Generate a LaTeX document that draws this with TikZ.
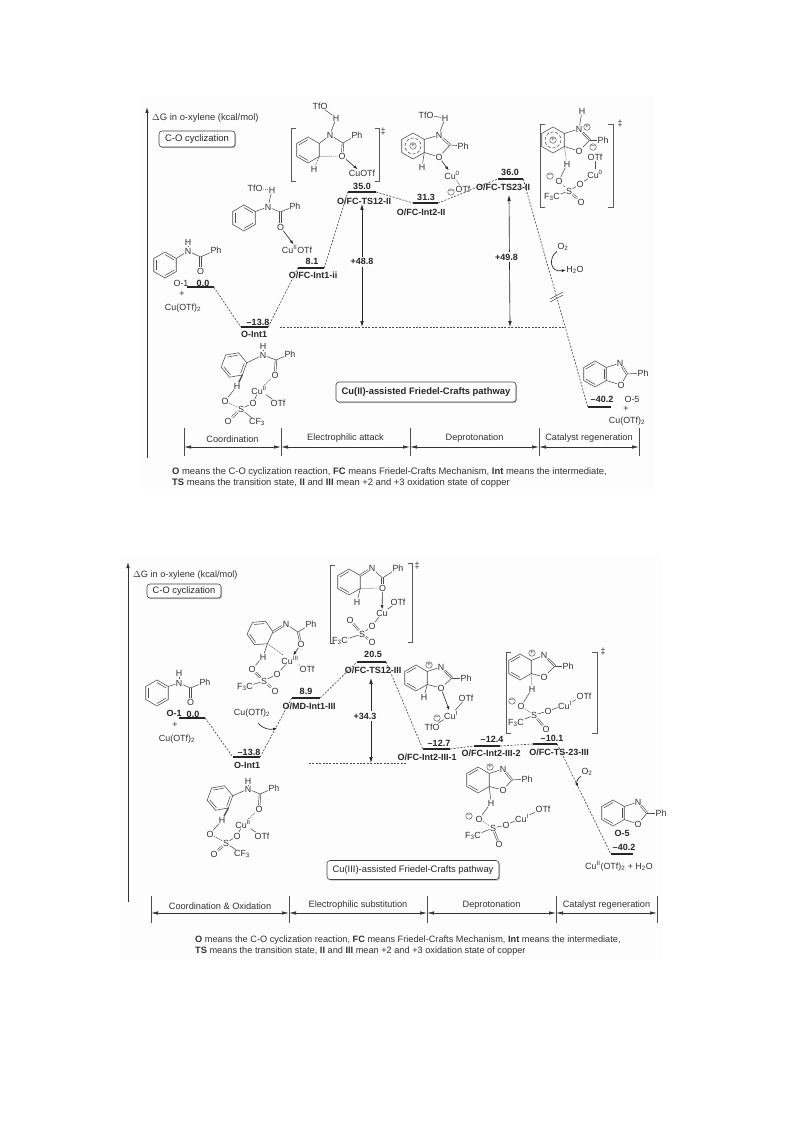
\documentclass[tikz,border=0pt]{standalone}
\usepackage{fontspec}
\setmainfont{Liberation Sans}
\usetikzlibrary{positioning}
\usetikzlibrary{arrows.meta}
\usetikzlibrary{calc}
\usetikzlibrary{shadows}

% molecule helpers
\newcommand{\atoms}[1]{\foreach \n/\x/\y/\t in {#1}{\node[atom] (\n) at (\x,\y) {\t};}}
\newcommand{\carbons}[1]{\foreach \n/\x/\y in {#1}{\coordinate (\n) at (\x,\y);}}
\newcommand{\signs}[1]{\foreach \n/\x/\y/\t in {#1}{\node[sign] (\n) at (\x,\y) {\t};}}
\newcommand{\bonds}[1]{\foreach \a/\b in {#1}{\draw[bond] (\a) -- (\b);}}
\newcommand{\dbonds}[1]{\foreach \a/\b in {#1}{\draw[dbond] (\a) -- (\b);}}
\newcommand{\dotbonds}[1]{\foreach \a/\b in {#1}{\draw[dotbond] (\a) -- (\b);}}
\newcommand{\cubonds}[1]{\foreach \a/\b in {#1}{\draw[cobond] (\a) -- (\b);}}
\newcommand{\ringat}[4]{%
  \coordinate (#10) at (#2,#3);
  \foreach \k in {1,...,6}{\coordinate (#1\k) at ({#2+13*cos(#4+60*\k)},{#3+13*sin(#4+60*\k)});}
  \draw[bond] (#11) -- (#12) -- (#13) -- (#14) -- (#15) -- (#16) -- cycle;}
\newcommand{\ringdbl}[2]{\foreach \p/\q in {#2}{\draw[bond] ($(#1\p)!.2!(#10)$) -- ($(#1\q)!.2!(#10)$);}}

\begin{document}
\begin{tikzpicture}[
  x=1pt, y=-1pt,
  atom/.style={inner sep=.4pt, text=black!80, font=\fontsize{8.9}{9}\selectfont},
  sign/.style={circle, draw=black!75, line width=.4pt, inner sep=0pt, minimum size=6.5pt, text=black!80, font=\fontsize{6.5}{6}\selectfont},
  bond/.style={line width=.55pt, draw=black!70},
  dbond/.style={line width=.6pt, draw=black!70, double=white, double distance=1pt},
  dotbond/.style={line width=.55pt, draw=black!70, dash pattern=on 1pt off 1pt},
  cobond/.style={line width=.6pt, draw=black!85, -{Latex[length=4pt,width=3pt]}},
  heavy/.style={line width=1.3pt, draw=black!70},
  brack/.style={line width=.75pt, draw=black!65},
  level/.style={fill=black!85, inner sep=0pt, minimum height=2.2pt},
  val/.style={inner sep=0pt, text=black!85, font=\bfseries\fontsize{9}{9}\selectfont},
  lab/.style={inner sep=0pt, text=black!85, font=\bfseries\fontsize{9}{9}\selectfont},
  plain/.style={inner sep=0pt, text=black!80, font=\fontsize{9.2}{9}\selectfont},
  conn/.style={line width=.65pt, draw=black!70, dash pattern=on 2pt off 1.4pt},
  gap/.style={line width=.65pt, draw=black!85, {Latex[length=6pt,width=3.6pt]}-{Latex[length=6pt,width=3.6pt]}},
  axis/.style={line width=.8pt, draw=black!80, -{Latex[length=6pt,width=3.6pt]}},
  span/.style={line width=.65pt, draw=black!80, {Latex[length=7pt,width=3.4pt]}-{Latex[length=7pt,width=3.4pt]}},
  tick/.style={line width=.65pt, draw=black!70},
  curl/.style={line width=.65pt, draw=black!85, -{Latex[length=4pt,width=3pt]}},
  tagbox/.style={draw=black!75, fill=white, rounded corners=3pt, line width=.6pt, inner sep=0pt, text=black!85, drop shadow={shadow xshift=1pt, shadow yshift=-1.2pt, fill=black!50}},
  note/.style={anchor=north west, inner sep=0pt, align=left, text=black!80}
]
\useasboundingbox (0,0) rectangle (793,1123);
\fill[black!.8] (140,95) rectangle (655,490);
\fill[black!.8] (120,555) rectangle (662,960);

% ---------- upper diagram ----------
\coordinate (axa) at (147,458);
\coordinate (axb) at (147,107);
\draw[axis] (axa) -- (axb);
\node[plain, anchor=west, font=\fontsize{9.4}{9}\selectfont] (ttla) at (152,118) {$\Delta$G in o-xylene (kcal/mol)};
\node[tagbox, minimum width=76pt, minimum height=16pt, font=\fontsize{9.5}{9}\selectfont] (boxa) at (197,139) {C-O cyclization};
\node[tagbox, minimum width=180pt, minimum height=20pt, font=\bfseries\fontsize{9.4}{9}\selectfont] (patha) at (426,392) {Cu(II)-assisted Friedel-Crafts pathway};

% Levels
\node[level, minimum width=27pt] (la1) at (200,287) {};
\node[level, minimum width=27pt] (la2) at (254.5,327) {};
\node[level, minimum width=26pt] (la3) at (311,268) {};
\node[level, minimum width=28pt] (la4) at (362,192) {};
\node[level, minimum width=25pt] (la5) at (425.5,203) {};
\node[level, minimum width=25pt] (la6) at (510.5,179) {};
\node[level, minimum width=23pt] (la7) at (599.5,407) {};

\node[val] (va1) at (203,283) {0.0};
\node[val] (va2) at (258,322) {--13.8};
\node[val] (va3) at (312,261) {8.1};
\node[val] (va4) at (362,186) {35.0};
\node[val] (va5) at (426,197) {31.3};
\node[val] (va6) at (510,172) {36.0};
\node[val] (va7) at (602,399) {--40.2};

\node[lab] (ta2) at (254,334) {O-Int1};
\node[lab] (ta3) at (313,275) {O/FC-Int1-ii};
\node[lab] (ta4) at (364,201) {O/FC-TS12-II};
\node[lab] (ta5) at (421,212) {O/FC-Int2-II};
\node[lab] (ta6) at (503,187) {O/FC-TS23-II};

% Pathway
\draw[conn] (la1.east) -- (la2.west);
\draw[conn] (la2.east) -- (la3.west);
\draw[conn] (la3.east) -- (la4.west);
\draw[conn] (la4.east) -- (la5.west);
\draw[conn] (la5.east) -- (la6.west);
\draw[conn] (la6.east) -- (la7.west);
\coordinate (hza) at (280,327);
\coordinate (hzb) at (565,327);
\draw[conn] (hza) -- (hzb);
\coordinate (gaa) at (362,204);
\coordinate (gab) at (362,327);
\coordinate (gac) at (509,195);
\coordinate (gad) at (510,327);
\draw[gap] (gaa) -- node[pos=.47, val, fill=white, inner sep=2pt] (g1) {+48.8} (gab);
\draw[gap] (gac) -- node[pos=.47, val, fill=white, inner sep=2pt, xshift=-3pt] (g2) {+49.8} (gad);

% Break and oxygen
\coordinate (bra) at (550,302);
\coordinate (brb) at (563,295);
\coordinate (brc) at (550,299);
\coordinate (brd) at (563,292);
\draw[bond] (bra) -- (brb);
\draw[bond] (brc) -- (brd);
\atoms{oxa/563/247/{O\textsubscript{2}}, oxb/575/270/{H\textsubscript{2}O}}
\draw[curl] (oxa.south west) .. controls (548,258) and (550,273) .. (oxb.west);

% Scale
\foreach \n/\x in {1/184,2/281,3/410,4/539,5/639}{
  \coordinate (sat\n) at (\x,428);
  \coordinate (sab\n) at (\x,456);
  \coordinate (sam\n) at (\x,447);
  \draw[tick] (sat\n) -- (sab\n);
}
\foreach \i/\j/\t in {1/2/Coordination,2/3/Electrophilic attack,3/4/Deprotonation,4/5/Catalyst regeneration}{
  \draw[span] (sam\i) -- node[above=4pt, plain] (sal\i) {\t} (sam\j);
}
\node[note, font=\fontsize{9.4}{11}\selectfont] (nota) at (172,467) {\textbf{O} means the C-O cyclization reaction, \textbf{FC} means Friedel-Crafts Mechanism, \textbf{Int} means the intermediate,\\
\textbf{TS} means the transition state, \textbf{II} and \textbf{III} mean +2 and +3 oxidation state of copper};

% Molecules
\ringat{oar}{165}{265}{30}
\ringdbl{oar}{2/3,4/5,6/1}
\atoms{oaH/188/242/H, oaN/188/251/N, oaPh/216/250/Ph, oaO/200.5/271/O, oaT/181/283/O-1, oaP/182/294/+, oaC/183/308/{Cu(OTf)\textsubscript{2}}}
\carbons{oaK/200.5/257}
\bonds{oar5/oaN, oaN/oaH, oaN/oaK, oaK/oaPh}
\dbonds{oaK/oaO}

\ringat{obr}{244}{218}{30}
\ringdbl{obr}{2/3,4/5,6/1}
\atoms{obT/255/188/TfO, obH/272/190/H, obN/268/207/N, obPh/295/206/Ph, obO/280.5/227/O, obC/297/249/{Cu\textsuperscript{II}OTf}}
\carbons{obK/280.5/212}
\bonds{obr5/obN, obN/obH, obN/obK, obK/obPh}
\dotbonds{obT/obH}
\dbonds{obK/obO}
\cubonds{obO/obC}

\ringat{ocr}{308}{150}{30}
\ringdbl{ocr}{1/2,3/4}
\atoms{ocT/320/106/TfO, ocH/336/118/H, ocN/330/135/N, ocPh/357/135/Ph, ocO/342/156/O, ocC/362/173/CuOTf, ocJ/314/169/H, ocD/383/132/‡}
\carbons{ocK/343/143}
\bonds{ocr5/ocN, ocN/ocK, ocK/ocPh, ocN/ocH, ocH/ocT}
\dbonds{ocK/ocO}
\dotbonds{ocr6/ocO, ocr6/ocJ}
\cubonds{ocO/ocC}
\draw[brack] (296,128) -- (291,128) -- (291,181) -- (296,181);
\draw[brack] (375,128) -- (379,128) -- (379,181) -- (375,181);

\ringat{odr}{234}{365}{-10}
\ringdbl{odr}{2/3,4/5,6/1}
\atoms{odH/263/346/H, odN/263/355/N, odPh/290/354/Ph, odO/275/375/O, odC/259/390/{Cu\textsuperscript{II}}, odA/253/403/O, odT/278/403/OTf, odJ/237/386/H, odB/225/401/O, odS/241/409/S, odD/228/421/O, odF/257/422/{CF\textsubscript{3}}}
\carbons{odK/276/360}
\bonds{odr6/odN, odN/odH, odN/odK, odK/odPh, odC/odA, odC/odT, odA/odS, odJ/odB, odS/odF}
\dbonds{odK/odO, odS/odD}
\dotbonds{odO/odC, odB/odS}
\draw[heavy] (odr1) -- (odJ);

\ringat{oer}{413}{146}{30}
\draw[bond, densely dashed] (oer0) circle (8);
\signs{oeP/413/146/+, oeM/451/192/--}
\atoms{oeT/426/115/TfO, oeH/445/118/H, oeN/439/135/N, oePh/463/146/Ph, oeO/439/157/O, oeC/452/175/{Cu\textsuperscript{0}}, oeF/463/189/OTf, oeJ/422/167/H}
\carbons{oeK/450/145}
\bonds{oer5/oeN, oer6/oeO, oeO/oeK, oeK/oePh, oeT/oeH, oeN/oeH, oer6/oeJ}
\dbonds{oeN/oeK}
\dotbonds{oeC/oeF}
\cubonds{oeO/oeC}

\ringat{ofr}{553}{140}{30}
\draw[bond, densely dashed] (ofr0) circle (8);
\signs{ofP/553/140/+, ofQ/587/127/+, ofM/593/147/--, ofL/550/176/--}
\atoms{ofH/582/111/H, ofN/579/129/N, ofPh/603/140/Ph, ofO/579/151/O, ofJ/567/164/H, ofT/595/157/OTf, ofC/595/174/{Cu\textsuperscript{0}}, ofA/580/184/O, ofS/569/191/S, ofB/559/181/O, ofF/552/197/{F\textsubscript{3}C}, ofD/581/202/O, ofE/620/124/‡}
\carbons{ofK/590/140}
\bonds{ofr5/ofN, ofN/ofH, ofr6/ofO, ofO/ofK, ofK/ofPh, ofT/ofC, ofC/ofA, ofA/ofS, ofJ/ofB, ofS/ofF}
\dbonds{ofN/ofK, ofS/ofD}
\dotbonds{ofr6/ofJ, ofB/ofS}
\draw[brack] (545,124) -- (540,124) -- (540,207) -- (545,207);
\draw[brack] (608,124) -- (613,124) -- (613,207) -- (608,207);

\ringat{ogr}{595}{374}{30}
\ringdbl{ogr}{1/2,3/4,5/6}
\atoms{ogN/620/363/N, ogPh/643/373/Ph, ogO/621/385/O, ogT/632/399/O-5, ogP/626/409/+, ogC/627/421/{Cu(OTf)\textsubscript{2}}}
\carbons{ogK/627/374}
\bonds{ogr5/ogN, ogr6/ogO, ogO/ogK, ogK/ogPh}
\dbonds{ogN/ogK}

% ---------- lower diagram ----------
\coordinate (bxa) at (128,902);
\coordinate (bxb) at (128,562);
\draw[axis] (bxa) -- (bxb);
\node[plain, anchor=west] (ttlb) at (133,575) {$\Delta$G in o-xylene (kcal/mol)};
\node[tagbox, minimum width=74pt, minimum height=14pt, font=\fontsize{9.3}{9}\selectfont] (boxb) at (184,591) {C-O cyclization};
\node[tagbox, minimum width=172pt, minimum height=19pt, font=\fontsize{9.4}{9}\selectfont] (pathb) at (413,870) {Cu(III)-assisted Friedel-Crafts pathway};

% Levels
\node[level, minimum width=26pt] (lb1) at (192,718) {};
\node[level, minimum width=27pt] (lb2) at (246.5,757) {};
\node[level, minimum width=28pt] (lb3) at (306,698) {};
\node[level, minimum width=29pt] (lb4) at (371.5,662) {};
\node[level, minimum width=27pt] (lb5) at (436.5,749) {};
\node[level, minimum width=26pt] (lb6) at (487,746) {};
\node[level, minimum width=24pt] (lb7) at (545,744) {};
\node[level, minimum width=22pt] (lb8) at (622,854) {};

\node[val] (vb1) at (193,714) {0.0};
\node[val] (vb2) at (249,752) {--13.8};
\node[val] (vb3) at (306,691) {8.9};
\node[val] (vb4) at (373,654) {20.5};
\node[val] (vb5) at (439,743) {--12.7};
\node[val] (vb6) at (492,739) {--12.4};
\node[val] (vb7) at (552,738) {--10.1};
\node[val] (vb8) at (624,847) {--40.2};

\node[lab] (tb1) at (174,713) {O-1};
\node[lab] (tb2) at (247,765) {O-Int1};
\node[lab] (tb3) at (309,706) {O/MD-Int1-III};
\node[lab] (tb4) at (373,670) {O/FC-TS12-III};
\node[lab] (tb5) at (427,757) {O/FC-Int2-III-1};
\node[lab] (tb6) at (491,753) {O/FC-Int2-III-2};
\node[lab] (tb7) at (559,752) {O/FC-TS-23-III};
\node[lab] (tb8) at (622,833) {O-5};

% Pathway
\draw[conn] (lb1.east) -- (lb2.west);
\draw[conn] (lb2.east) -- (lb3.west);
\draw[conn] (lb3.east) -- (lb4.west);
\draw[conn] (lb4.east) -- (lb5.west);
\draw[conn] (lb5.east) -- (lb6.west);
\draw[conn] (lb6.east) -- (lb7.west);
\draw[conn] (lb7.east) -- (lb8.west);
\coordinate (hzc) at (309,763);
\coordinate (hzd) at (407,763);
\draw[conn] (hzc) -- (hzd);
\coordinate (gba) at (371,678);
\coordinate (gbb) at (371,763);
\draw[gap] (gba) -- node[pos=.45, val, fill=white, inner sep=2pt, xshift=-6pt] (g3) {+34.3} (gbb);

% Reagents
\atoms{cua/252/713/{Cu(OTf)\textsubscript{2}}, oxc/587/772/{O\textsubscript{2}}, cub/619/866/{Cu\textsuperscript{II}(OTf)\textsubscript{2} + H\textsubscript{2}O}}
\coordinate (kka) at (277,728);
\coordinate (kkb) at (578,787);
\draw[curl] (258,723) .. controls (263,729) and (270,730) .. (kka);
\draw[curl] (oxc.south west) .. controls (578,778) and (576,782) .. (kkb);

% Scale
\foreach \n/\x in {1/151,2/289,3/427,4/556,5/657}{
  \coordinate (sbt\n) at (\x,896);
  \coordinate (sbb\n) at (\x,923);
  \coordinate (sbm\n) at (\x,913);
  \draw[tick] (sbt\n) -- (sbb\n);
}
\foreach \i/\j/\t in {1/2/Coordination \& Oxidation,2/3/Electrophilic substitution,3/4/Deprotonation,4/5/Catalyst regeneration}{
  \draw[span] (sbm\i) -- node[above=3pt, plain] (sbl\i) {\t} (sbm\j);
}
\node[note, font=\fontsize{9.2}{11}\selectfont] (notb) at (195,936) {\textbf{O} means the C-O cyclization reaction, \textbf{FC} means Friedel-Crafts Mechanism, \textbf{Int} means the intermediate,\\
\textbf{TS} means the transition state, \textbf{II} and \textbf{III} mean +2 and +3 oxidation state of copper};

% Molecules
\ringat{par}{157}{693}{30}
\ringdbl{par}{2/3,4/5,6/1}
\atoms{paH/179/673/H, paN/179/683/N, paPh/205/682/Ph, paO/190.5/702/O, paP/175/725/+, paC/177/739/{Cu(OTf)\textsubscript{2}}}
\carbons{paK/190.5/688}
\bonds{par5/paN, paN/paH, paN/paK, paK/paPh}
\dbonds{paK/paO}

\ringat{pbr}{220}{798}{-10}
\ringdbl{pbr}{2/3,4/5,6/1}
\atoms{pbH/248/781/H, pbN/248/789/N, pbPh/274/788/Ph, pbO/259/809/O, pbC/243/824/{Cu\textsuperscript{II}}, pbA/237/836/O, pbT/262/836/OTf, pbJ/222/820/H, pbB/210/834/O, pbS/226/843/S, pbD/214/854/O, pbF/242/854/{CF\textsubscript{3}}}
\carbons{pbK/260/794}
\bonds{pbr6/pbN, pbN/pbH, pbN/pbK, pbK/pbPh, pbC/pbA, pbC/pbT, pbA/pbS, pbJ/pbB, pbS/pbF}
\dbonds{pbK/pbO, pbS/pbD}
\dotbonds{pbO/pbC, pbB/pbS}
\draw[heavy] (pbr1) -- (pbJ);

\ringat{pcr}{260}{633}{-5}
\ringdbl{pcr}{2/3,4/5}
\atoms{pcN/286/624/N, pcPh/311/624/Ph, pcO/301/644/O, pcC/290/660/{Cu\textsuperscript{III}}, pcT/307/669/OTf, pcA/277/674/O, pcS/264/681/S, pcB/252/669/O, pcD/275/691/O, pcF/245/687/{F\textsubscript{3}C}, pcH/263/657/H}
\carbons{pcK/298/632}
\bonds{pcN/pcK, pcK/pcPh, pcC/pcT, pcC/pcA, pcA/pcS, pcS/pcF, pcr1/pcH, pcH/pcB}
\dbonds{pcr6/pcN, pcK/pcO, pcS/pcB, pcS/pcD}
\dotbonds{pcr1/pcC}
\cubonds{pcO/pcC}

\ringat{pdr}{349}{582}{30}
\ringdbl{pdr}{1/2,3/4}
\atoms{pdN/372/568/N, pdPh/398/568/Ph, pdO/382.5/588/O, pdJ/357/602/H, pdC/382/613/Cu, pdT/398/602/OTf, pdA/372/626/O, pdS/362/634/S, pdB/350/620/O, pdD/372/642/O, pdF/340/641/{F\textsubscript{3}C}, pdE/417/566/‡}
\carbons{pdK/382.5/578}
\bonds{pdN/pdK, pdK/pdPh, pdr6/pdJ, pdC/pdT, pdC/pdA, pdA/pdS, pdS/pdF}
\dbonds{pdr5/pdN, pdK/pdO, pdS/pdB, pdS/pdD}
\dotbonds{pdr6/pdO}
\cubonds{pdO/pdC}
\draw[brack] (335,565) -- (330,565) -- (330,643) -- (335,643);
\draw[brack] (408,563) -- (412,563) -- (412,642) -- (408,642);

\ringat{per}{416}{678}{30}
\ringdbl{per}{1/2,3/4}
\signs{peP/429/665/+, peM/437/718/--}
\atoms{peN/441/667/N, pePh/466/678/Ph, peO/441/688/O, peJ/424/697/H, peC/451/715/{Cu\textsuperscript{I}}, peT/466/698/OTf, peA/432/727/TfO}
\carbons{peK/452/678}
\bonds{per5/peN, per6/peO, peO/peK, peK/pePh, per6/peJ, peC/peT, peC/peA}
\dbonds{peN/peK}
\cubonds{peO/peC}

\ringat{pfr}{520}{667}{30}
\ringdbl{pfr}{1/2,3/4}
\signs{pfP/532/653/+, pfM/512/701/--}
\atoms{pfN/544/655/N, pfPh/568/666/Ph, pfO/544/677/O, pfH/532/689/H, pfA/521/706/O, pfS/534/715/S, pfB/548/711/O, pfC/565/705/{Cu\textsuperscript{I}}, pfT/584/696/OTf, pfF/516/723/{F\textsubscript{3}C}, pfD/546/729/O, pfE/603/652/‡}
\carbons{pfK/555/666}
\bonds{pfr5/pfN, pfr6/pfO, pfO/pfK, pfK/pfPh, pfH/pfA, pfS/pfB, pfB/pfC, pfC/pfT, pfS/pfF}
\dbonds{pfN/pfK, pfS/pfD}
\dotbonds{pfr6/pfH, pfA/pfS}
\draw[brack] (511,652) -- (506,652) -- (506,733) -- (511,733);
\draw[brack] (592,652) -- (597,652) -- (597,733) -- (592,733);

\ringat{pgr}{478}{780}{30}
\ringdbl{pgr}{1/2,3/4}
\signs{pgP/490/767/+, pgM/469/816/--}
\atoms{pgN/503/769/N, pgPh/527/779/Ph, pgO/503/790/O, pgH/491/803/H, pgA/479/819/O, pgS/493/828/S, pgB/506/825/O, pgC/522/818/{Cu\textsuperscript{I}}, pgT/543/809/OTf, pgF/473/836/{F\textsubscript{3}C}, pgD/499/844/O}
\carbons{pgK/512/780}
\bonds{pgr5/pgN, pgr6/pgO, pgO/pgK, pgK/pgPh, pgr6/pgH, pgH/pgA, pgS/pgB, pgB/pgC, pgC/pgT, pgS/pgF}
\dbonds{pgN/pgK, pgS/pgD}
\dotbonds{pgA/pgS}

\ringat{phr}{613}{813}{30}
\ringdbl{phr}{1/2,3/4,5/6}
\atoms{phN/638/802/N, phPh/661/813/Ph, phO/638/824/O}
\carbons{phK/647/813}
\bonds{phr5/phN, phr6/phO, phO/phK, phK/phPh}
\dbonds{phN/phK}
\end{tikzpicture}
\end{document}
